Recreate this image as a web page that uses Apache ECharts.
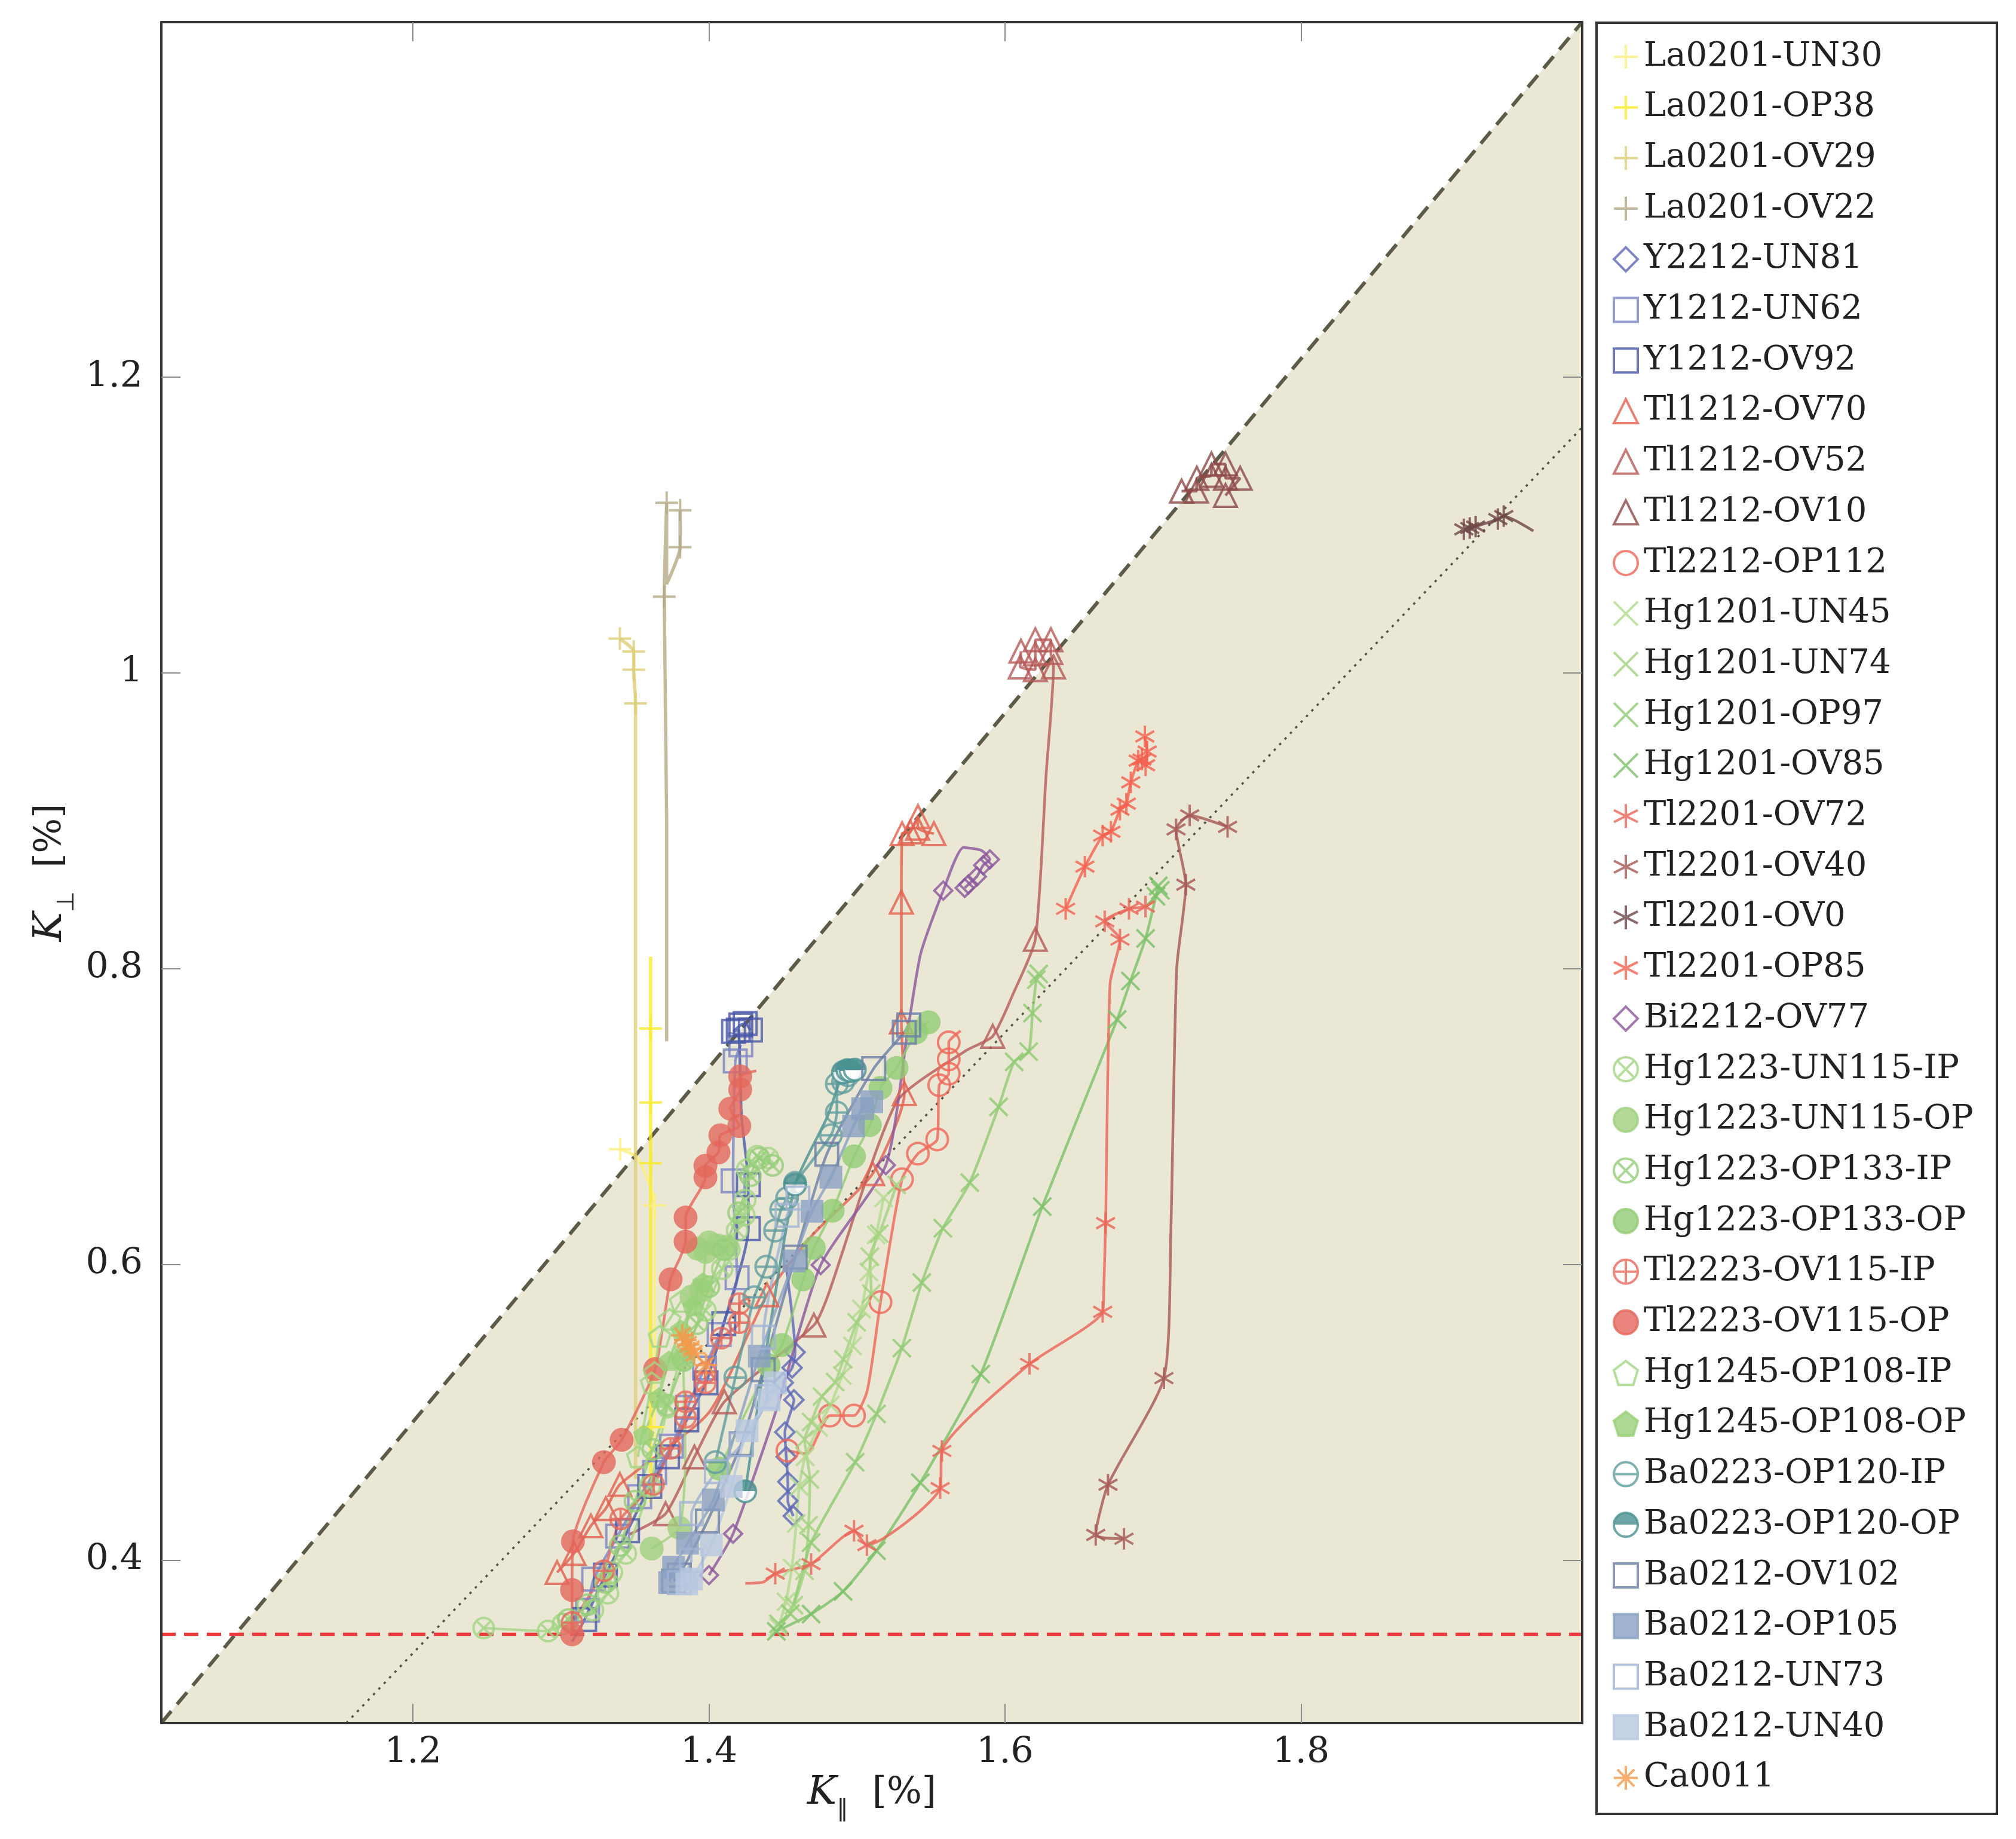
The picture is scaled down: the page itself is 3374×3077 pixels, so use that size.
<!DOCTYPE html>
<html><head><meta charset="utf-8">
<script src="https://cdn.jsdelivr.net/npm/echarts@6/dist/echarts.min.js"></script>
<style>html,body{margin:0;padding:0;background:#fff}#c{width:3374px;height:3077px}</style>
</head><body><div id="c"></div>
<script>
// ---------- data (K_parallel, K_perp); third element 0 = line point without marker ----------
const xTicks = [1.2, 1.4, 1.6, 1.8];
const yTicks = [0.4, 0.6, 0.8, 1, 1.2];
const boundaryDashed = [[1.03, 0.29], [1.99, 1.44]];
const boundaryDotted = [[1.155, 0.29], [1.99, 1.166]];
const thresholdLine = [[1.03, 0.35], [1.99, 0.35]];

const La0201_UN30 = [[1.340,0.678],[1.352,0.672,0],[1.3633,0.640],[1.3633,0.58,0],[1.3633,0.49]];
const La0201_OP38 = [[1.3606,0.808,0],[1.3606,0.7595],[1.3606,0.7095],[1.3606,0.6685],[1.3606,0.60,0],[1.3606,0.49],[1.3606,0.439,0]];
const La0201_OV29 = [[1.3398,1.0232],[1.3492,1.0144],[1.3492,1.0022],[1.3504,0.9794],[1.3504,0.70,0],[1.3504,0.455,0]];
const La0201_OV22 = [[1.3805,1.110],[1.3805,1.085],[1.3714,1.06,0],[1.3714,1.115],[1.3698,1.0516],[1.3714,0.90,0],[1.3714,0.751,0]];
const Y2212_UN81 = [[1.452,0.60,0],[1.4582,0.5407],[1.4562,0.5302],[1.4502,0.5201],[1.4574,0.5085],[1.4513,0.4867],[1.4522,0.47],[1.4533,0.4531],[1.4533,0.4402],[1.457,0.43]];
const Y1212_UN62 = [[1.318,0.3663],[1.3221,0.3873],[1.3383,0.4164],[1.3532,0.443],[1.3633,0.4594],[1.3746,0.4772],[1.3855,0.5035],[1.397,0.53],[1.4069,0.5526],[1.419,0.591],[1.4163,0.6566],[1.4178,0.7376],[1.4215,0.7485]];
const Y1212_OV92 = [[1.3075,0.345,0],[1.316,0.36],[1.33,0.39],[1.345,0.42],[1.36,0.45],[1.372,0.47],[1.385,0.495],[1.398,0.52],[1.41,0.56],[1.4266,0.6243],[1.4266,0.654],[1.422,0.70,0],[1.4198,0.7585],[1.4166,0.7576],[1.4215,0.7620],[1.4245,0.7630],[1.428,0.7585]];
const Tl1212_OV70 = [[1.2974,0.3918],[1.3088,0.4047],[1.3202,0.4233],[1.3303,0.435],[1.3398,0.4513],[1.40,0.50,0],[1.4392,0.5795],[1.47,0.62,0],[1.5106,0.6614],[1.532,0.7155],[1.530,0.764],[1.530,0.845],[1.5305,0.8913],[1.536,0.8925],[1.5412,0.9029],[1.541,0.895],[1.552,0.8913]];
const Tl1212_OV52 = [[1.3464,0.4176,0],[1.3707,0.4315],[1.3902,0.4699],[1.4104,0.5072],[1.4709,0.559],[1.48,0.578,0],[1.5268,0.71,0],[1.5736,0.7446,0],[1.5917,0.7543],[1.6059,0.7839,0],[1.6205,0.8198],[1.6277,0.93,0],[1.6328,1.004],[1.631,1.0137],[1.631,1.0224],[1.6205,1.0224],[1.6205,1.0128],[1.6205,1.0022],[1.6103,1.004],[1.6108,1.0147]];
const Tl1212_OV10 = [[1.7193,1.1229],[1.7294,1.1229],[1.7296,1.1316],[1.7395,1.1335],[1.7395,1.1412],[1.749,1.1412],[1.749,1.1316],[1.7589,1.1316],[1.749,1.12]];
const Tl2212_OP112 = [[1.453,0.4742],[1.466,0.472,0],[1.4817,0.4979],[1.498,0.4979],[1.507,0.515,0],[1.5159,0.5746],[1.5304,0.6576],[1.5412,0.675],[1.5542,0.6846],[1.5556,0.7213],[1.562,0.729],[1.562,0.7387],[1.562,0.7502],[1.570,0.758,0]];
const Hg1201_UN45 = [[1.447,0.355],[1.452,0.372],[1.456,0.395],[1.459,0.425],[1.461,0.45],[1.465,0.47],[1.474,0.49],[1.482,0.505],[1.49,0.525],[1.497,0.545],[1.503,0.57],[1.508,0.595],[1.513,0.62],[1.518,0.645]];
const Hg1201_UN74 = [[1.4574,0.3697],[1.4646,0.393],[1.4673,0.4238],[1.4682,0.4547],[1.4646,0.4818],[1.469,0.4935],[1.4763,0.5108],[1.4853,0.5205],[1.4908,0.5359],[1.4998,0.5609],[1.5097,0.5803],[1.5087,0.6053],[1.5151,0.6209],[1.5268,0.6538]];
const Hg1201_OP97 = [[1.447,0.357],[1.455,0.364],[1.469,0.412],[1.4988,0.4663],[1.5132,0.499],[1.5303,0.5435],[1.5438,0.5878],[1.558,0.6245],[1.5762,0.6554],[1.5957,0.7066],[1.6062,0.737],[1.616,0.7439],[1.6186,0.770],[1.6212,0.7926],[1.6228,0.7965]];
const Hg1201_OV85 = [[1.4455,0.352],[1.469,0.3637],[1.4906,0.379],[1.5132,0.4065],[1.5428,0.4525],[1.5836,0.5259],[1.6252,0.6392],[1.6758,0.7657],[1.6848,0.7917],[1.695,0.8205],[1.702,0.849],[1.7036,0.856],[1.705,0.853]];
const Tl2201_OV72 = [[1.4245,0.3845,0],[1.4367,0.3853,0],[1.4448,0.391],[1.469,0.3975],[1.498,0.42],[1.5067,0.4103],[1.5562,0.4488],[1.5574,0.474],[1.6166,0.5328],[1.666,0.568],[1.6668,0.585,0],[1.668,0.628],[1.671,0.79,0],[1.6777,0.8197],[1.6674,0.8321],[1.6838,0.8405],[1.6949,0.842],[1.700,0.846,0]];
const Tl2201_OV40 = [[1.6804,0.4146],[1.6613,0.4172],[1.6696,0.4511],[1.7074,0.5232],[1.712,0.62,0],[1.716,0.80,0],[1.7222,0.8568],[1.7156,0.8942],[1.7248,0.9037],[1.7504,0.8959]];
const Tl2201_OV0 = [[1.910,1.097],[1.914,1.098],[1.918,1.099],[1.933,1.104],[1.937,1.106],[1.957,1.096,0]];
const Tl2201_OP85 = [[1.641,0.8405],[1.654,0.869],[1.666,0.890],[1.6716,0.8926],[1.6777,0.9075],[1.682,0.9116],[1.685,0.926],[1.690,0.9407],[1.6925,0.9415],[1.695,0.9375],[1.696,0.9468],[1.6945,0.957]];
const Bi2212_OV77 = [[1.400,0.390],[1.4163,0.418],[1.445,0.50,0],[1.4755,0.5997],[1.5195,0.6672],[1.534,0.756,0],[1.543,0.81,0],[1.5583,0.8528],[1.572,0.882,0],[1.584,0.880,0],[1.5898,0.8739],[1.5853,0.870],[1.581,0.8623],[1.5753,0.857],[1.5728,0.8546]];
const Hg1223_UN115_IP = [[1.2478,0.3542],[1.2913,0.3522],[1.3014,0.357],[1.3216,0.3663],[1.3317,0.3778],[1.3344,0.3918],[1.3438,0.4047],[1.36,0.45],[1.372,0.5035],[1.3815,0.5386],[1.3976,0.569],[1.409,0.5972],[1.4138,0.6102],[1.419,0.623],[1.4239,0.6333],[1.4245,0.6437],[1.4258,0.6642],[1.4326,0.6733],[1.44,0.672]];
const Hg1223_UN115_OP = [[1.3613,0.408],[1.380,0.422],[1.384,0.47,0],[1.3827,0.5363],[1.3882,0.5783],[1.3948,0.5829],[1.3976,0.6085],[1.3922,0.6108],[1.40,0.615],[1.406,0.613],[1.412,0.612]];
const Hg1223_OP133_IP = [[1.305,0.36],[1.318,0.37],[1.33,0.385],[1.34,0.41],[1.35,0.44],[1.362,0.475],[1.372,0.505],[1.383,0.535],[1.392,0.56],[1.40,0.585],[1.41,0.61],[1.42,0.635],[1.428,0.66],[1.434,0.672],[1.443,0.667]];
const Hg1223_OP133_OP = [[1.407,0.462],[1.4403,0.532],[1.4493,0.5456],[1.4637,0.59],[1.4709,0.6112],[1.4836,0.6364],[1.498,0.6732],[1.5087,0.6943],[1.5159,0.7194],[1.5268,0.733],[1.54,0.757],[1.5484,0.7638]];
const Tl2223_OV115_IP = [[1.3075,0.358],[1.329,0.3929],[1.3403,0.428],[1.3626,0.4513],[1.3741,0.4757],[1.3842,0.4967],[1.3842,0.5072],[1.3976,0.520],[1.3976,0.527],[1.4084,0.5502],[1.4205,0.5607],[1.4205,0.5736],[1.428,0.578,0]];
const Tl2223_OV115_OP = [[1.3075,0.35],[1.3075,0.38],[1.3081,0.4128],[1.329,0.4664],[1.341,0.4815],[1.3636,0.5293],[1.3741,0.59],[1.3842,0.6155],[1.3842,0.6318],[1.3976,0.659],[1.3976,0.6668],[1.4064,0.6758],[1.4077,0.6874],[1.4205,0.6937],[1.4144,0.7054],[1.4211,0.7183],[1.4211,0.7272],[1.432,0.731,0]];
const Hg1245_OP108_IP = [[1.352,0.47],[1.3613,0.52],[1.3633,0.527],[1.3667,0.5514],[1.3734,0.5629],[1.381,0.575]];
const Hg1245_OP108_OP = [[1.356,0.485],[1.366,0.51],[1.373,0.535],[1.381,0.556],[1.389,0.572],[1.396,0.588]];
const Ba0223_OP120_IP = [[1.4044,0.4664],[1.4178,0.5236],[1.4306,0.5779],[1.4387,0.5985],[1.4447,0.623],[1.4488,0.6372],[1.4528,0.6449],[1.4582,0.6552],[1.4824,0.6874],[1.4864,0.7028],[1.4864,0.7221],[1.4906,0.7235],[1.494,0.728]];
const Ba0223_OP120_OP = [[1.4245,0.4467],[1.44,0.55,0],[1.4582,0.654],[1.48,0.70,0],[1.4905,0.7300],[1.4935,0.7315],[1.4957,0.731],[1.4985,0.7318]];
const Ba0212_OV102 = [[1.3761,0.386],[1.38,0.39],[1.399,0.4266],[1.4218,0.4788],[1.4367,0.5289],[1.4582,0.605],[1.4796,0.6746],[1.5113,0.7325],[1.532,0.757],[1.535,0.762]];
const Ba0212_OP105 = [[1.3734,0.385],[1.3761,0.3954],[1.3855,0.4116],[1.403,0.4408],[1.434,0.538],[1.4574,0.6025],[1.4696,0.636],[1.4824,0.659],[1.4977,0.6937],[1.5038,0.7054],[1.51,0.71]];
const Ba0212_UN73 = [[1.38,0.385],[1.388,0.40],[1.3882,0.4315],[1.405,0.46],[1.4218,0.4782],[1.4392,0.5107],[1.4367,0.5508],[1.4528,0.6333],[1.46,0.645]];
const Ba0212_UN40 = [[1.385,0.384],[1.3882,0.3874],[1.4016,0.4105],[1.415,0.45],[1.4258,0.4876],[1.4407,0.5085],[1.445,0.52]];
const Ca0011 = [[1.382,0.552],[1.384,0.549],[1.386,0.546],[1.388,0.543],[1.390,0.540],[1.398,0.532]];

// ---------- styling ----------
const FONT = "'DejaVu Serif','Liberation Serif',serif";
const SYM = {
  plus: 'path://M0,-10L0,10M-10,0L10,0',
  cross: 'path://M-10,-10L10,10M-10,10L10,-10',
  aster: 'path://M0,-10L0,10M-8.66,-5L8.66,5M-8.66,5L8.66,-5',
  star8: 'path://M0,-10L0,10M-10,0L10,0M-7.07,-7.07L7.07,7.07M-7.07,7.07L7.07,-7.07',
  oplus: 'path://M10,0A10,10,0,1,1,-10,0A10,10,0,1,1,10,0ZM-10,0L10,0M0,-10L0,10',
  otimes: 'path://M10,0A10,10,0,1,1,-10,0A10,10,0,1,1,10,0ZM-7.07,-7.07L7.07,7.07M-7.07,7.07L7.07,-7.07',
  ominus: 'path://M10,0A10,10,0,1,1,-10,0A10,10,0,1,1,10,0ZM-10,0L10,0',
  pent: 'path://M0,-10L9.51,-3.09L5.88,8.09L-5.88,8.09L-9.51,-3.09Z',
  circle: 'circle', rect: 'rect', tri: 'triangle', dia: 'diamond'
};
// name, data, symbol, color, fill mode (o=open, f=filled, h=half), size, line width
const specs = [
  ['La0201-UN30', La0201_UN30, 'plus', '#fdf07c', 'o', 38, 5],
  ['La0201-OP38', La0201_OP38, 'plus', '#faea2a', 'o', 38, 5.5],
  ['La0201-OV29', La0201_OV29, 'plus', '#dccd76', 'o', 38, 5.5],
  ['La0201-OV22', La0201_OV22, 'plus', '#b4aa86', 'o', 38, 5.5],
  ['Y2212-UN81', Y2212_UN81, 'dia', '#5c68b6', 'o', 32, 4.5],
  ['Y1212-UN62', Y1212_UN62, 'rect', '#7c85c3', 'o', 38, 4.5],
  ['Y1212-OV92', Y1212_OV92, 'rect', '#4756a8', 'o', 38, 4.5],
  ['Tl1212-OV70', Tl1212_OV70, 'tri', '#e2604f', 'o', 38, 4.5],
  ['Tl1212-OV52', Tl1212_OV52, 'tri', '#b55a58', 'o', 38, 4.5],
  ['Tl1212-OV10', Tl1212_OV10, 'tri', '#8d4a48', 'o', 38, 4.5],
  ['Tl2212-OP112', Tl2212_OP112, 'circle', '#ef6657', 'o', 36, 4.5],
  ['Hg1201-UN45', Hg1201_UN45, 'cross', '#b3da8e', 'o', 30, 4.5],
  ['Hg1201-UN74', Hg1201_UN74, 'cross', '#a1d27f', 'o', 30, 4.5],
  ['Hg1201-OP97', Hg1201_OP97, 'cross', '#8fcb72', 'o', 30, 4.5],
  ['Hg1201-OV85', Hg1201_OV85, 'cross', '#79c168', 'o', 30, 4.5],
  ['Tl2201-OV72', Tl2201_OV72, 'aster', '#ea6458', 'o', 36, 4.5],
  ['Tl2201-OV40', Tl2201_OV40, 'aster', '#a55753', 'o', 36, 4.5],
  ['Tl2201-OV0', Tl2201_OV0, 'aster', '#6e4646', 'o', 36, 4.5],
  ['Tl2201-OP85', Tl2201_OP85, 'aster', '#f4604e', 'o', 36, 4.5],
  ['Bi2212-OV77', Bi2212_OV77, 'dia', '#8a569c', 'o', 30, 4.5],
  ['Hg1223-UN115-IP', Hg1223_UN115_IP, 'otimes', '#a3d483', 'o', 34, 4],
  ['Hg1223-UN115-OP', Hg1223_UN115_OP, 'circle', '#9fd07e', 'f', 40, 4],
  ['Hg1223-OP133-IP', Hg1223_OP133_IP, 'otimes', '#95cd78', 'o', 34, 4],
  ['Hg1223-OP133-OP', Hg1223_OP133_OP, 'circle', '#92cc74', 'f', 40, 4],
  ['Tl2223-OV115-IP', Tl2223_OV115_IP, 'oplus', '#e6695c', 'o', 34, 4.5],
  ['Tl2223-OV115-OP', Tl2223_OV115_OP, 'circle', '#e4675c', 'f', 40, 4.5],
  ['Hg1245-OP108-IP', Hg1245_OP108_IP, 'pent', '#a3d483', 'o', 36, 4],
  ['Hg1245-OP108-OP', Hg1245_OP108_OP, 'pent', '#98cf78', 'f', 36, 4],
  ['Ba0223-OP120-IP', Ba0223_OP120_IP, 'ominus', '#5f9e9e', 'o', 36, 4.5],
  ['Ba0223-OP120-OP', Ba0223_OP120_OP, 'circle', '#4a9191', 'h', 36, 4.5],
  ['Ba0212-OV102', Ba0212_OV102, 'rect', '#6a7ea6', 'o', 38, 4.5],
  ['Ba0212-OP105', Ba0212_OP105, 'rect', '#8aa0c2', 'f', 38, 4.5],
  ['Ba0212-UN73', Ba0212_UN73, 'rect', '#a0b3d3', 'o', 38, 4.5],
  ['Ba0212-UN40', Ba0212_UN40, 'rect', '#b8c8e0', 'f', 38, 4.5],
  ['Ca0011', Ca0011, 'star8', '#f39a4c', 'o', 38, 3]
];

function pts(a) {
  return a.map(p => (p.length > 2 && p[2] === 0) ? {value: [p[0], p[1]], symbol: 'none'} : [p[0], p[1]]);
}

const series = [];
series.push({
  type: 'line', name: 'boundary', data: boundaryDashed, symbol: 'none', silent: true,
  lineStyle: {color: '#5c5b48', width: 6, type: [26, 15]},
  areaStyle: {color: '#eae7d5', opacity: 1, origin: 'start'}, z: 1
});
series.push({
  type: 'line', name: 'dotted', data: boundaryDotted, symbol: 'none', silent: true,
  lineStyle: {color: '#55553f', width: 3.5, type: [4, 9]}, z: 1
});
series.push({
  type: 'line', name: 'threshold', data: thresholdLine, symbol: 'none', silent: true,
  lineStyle: {color: '#e83a3a', width: 5.5, type: [24, 14]}, z: 1
});

specs.forEach(s => {
  const [name, data, sym, color, mode, size, lw] = s;
  let fill = 'transparent', bw = 4;
  if (mode === 'f') { fill = color; bw = 0; }
  if (mode === 'h') {
    fill = new echarts.graphic.LinearGradient(0, 0, 0, 1, [
      {offset: 0, color: color}, {offset: 0.5, color: color},
      {offset: 0.5, color: '#ffffff'}, {offset: 1, color: '#ffffff'}]);
    bw = 4;
  }
  series.push({
    type: 'line', name: name, data: pts(data), symbol: SYM[sym], symbolSize: size,
    symbolKeepAspect: true, color: color, smooth: 0.2,
    itemStyle: {color: fill, borderColor: color, borderWidth: bw, opacity: 0.8},
    lineStyle: {color: color, width: lw, opacity: 0.8},
    emphasis: {disabled: true}, z: 2
  });
});

const axisCommonX = {
  type: 'value', min: 1.03, max: 1.99, z: 10,
  axisLine: {show: true, onZero: false, lineStyle: {color: '#333', width: 4}},
  axisTick: {show: true, inside: true, length: 32, customValues: xTicks, lineStyle: {color: '#8a8a8a', width: 2}},
  splitLine: {show: false}
};
const axisCommonY = {
  type: 'value', min: 0.29, max: 1.44, z: 10,
  axisLine: {show: true, onZero: false, lineStyle: {color: '#333', width: 4}},
  axisTick: {show: true, inside: true, length: 32, customValues: yTicks, lineStyle: {color: '#8a8a8a', width: 2}},
  splitLine: {show: false}
};
const nameRich = {
  k: {fontFamily: FONT, fontSize: 66, fontStyle: 'italic', color: '#222', lineHeight: 96, verticalAlign: 'middle'},
  s: {fontFamily: 'DejaVu Sans', fontSize: 40, color: '#222', lineHeight: 44, verticalAlign: 'bottom'},
  t: {fontFamily: FONT, fontSize: 62, color: '#222', lineHeight: 96, verticalAlign: 'middle'}
};

const option = {
  animation: false,
  backgroundColor: '#ffffff',
  grid: {left: 270, right: 726, top: 37, bottom: 194, containLabel: false},
  xAxis: [
    Object.assign({}, axisCommonX, {
      position: 'bottom',
      axisLabel: {customValues: xTicks, margin: 20, fontSize: 60, fontFamily: FONT, color: '#222'},
      name: '{k|K}{s|∥}{t|  [%]}', nameLocation: 'middle', nameGap: 70,
      nameTextStyle: {rich: nameRich}
    }),
    Object.assign({}, axisCommonX, {position: 'top', axisLabel: {show: false}})
  ],
  yAxis: [
    Object.assign({}, axisCommonY, {
      position: 'left',
      axisLabel: {customValues: yTicks, margin: 31, fontSize: 60, fontFamily: FONT, color: '#222'},
      name: '{k|K}{s|⊥}{t|  [%]}', nameLocation: 'middle', nameGap: 118, nameRotate: 90,
      nameTextStyle: {rich: nameRich}
    }),
    Object.assign({}, axisCommonY, {position: 'right', axisLabel: {show: false}})
  ],
  legend: {
    orient: 'vertical', left: 2690, top: 62, itemWidth: 50, itemHeight: 50, itemGap: 28.7,
    selectedMode: false, data: specs.map(s => s[0]),
    textStyle: {fontFamily: FONT, fontSize: 56, color: '#222'},
    itemStyle: {borderWidth: 4},
    lineStyle: {opacity: 0}
  },
  graphic: [{
    type: 'rect', shape: {x: 2672, y: 38, width: 670, height: 2997},
    style: {fill: 'none', stroke: '#333', lineWidth: 4}, z: 0, silent: true
  }],
  series: series
};

const chart = echarts.init(document.getElementById('c'), null, {renderer: 'canvas'});
chart.setOption(option);
</script></body></html>
